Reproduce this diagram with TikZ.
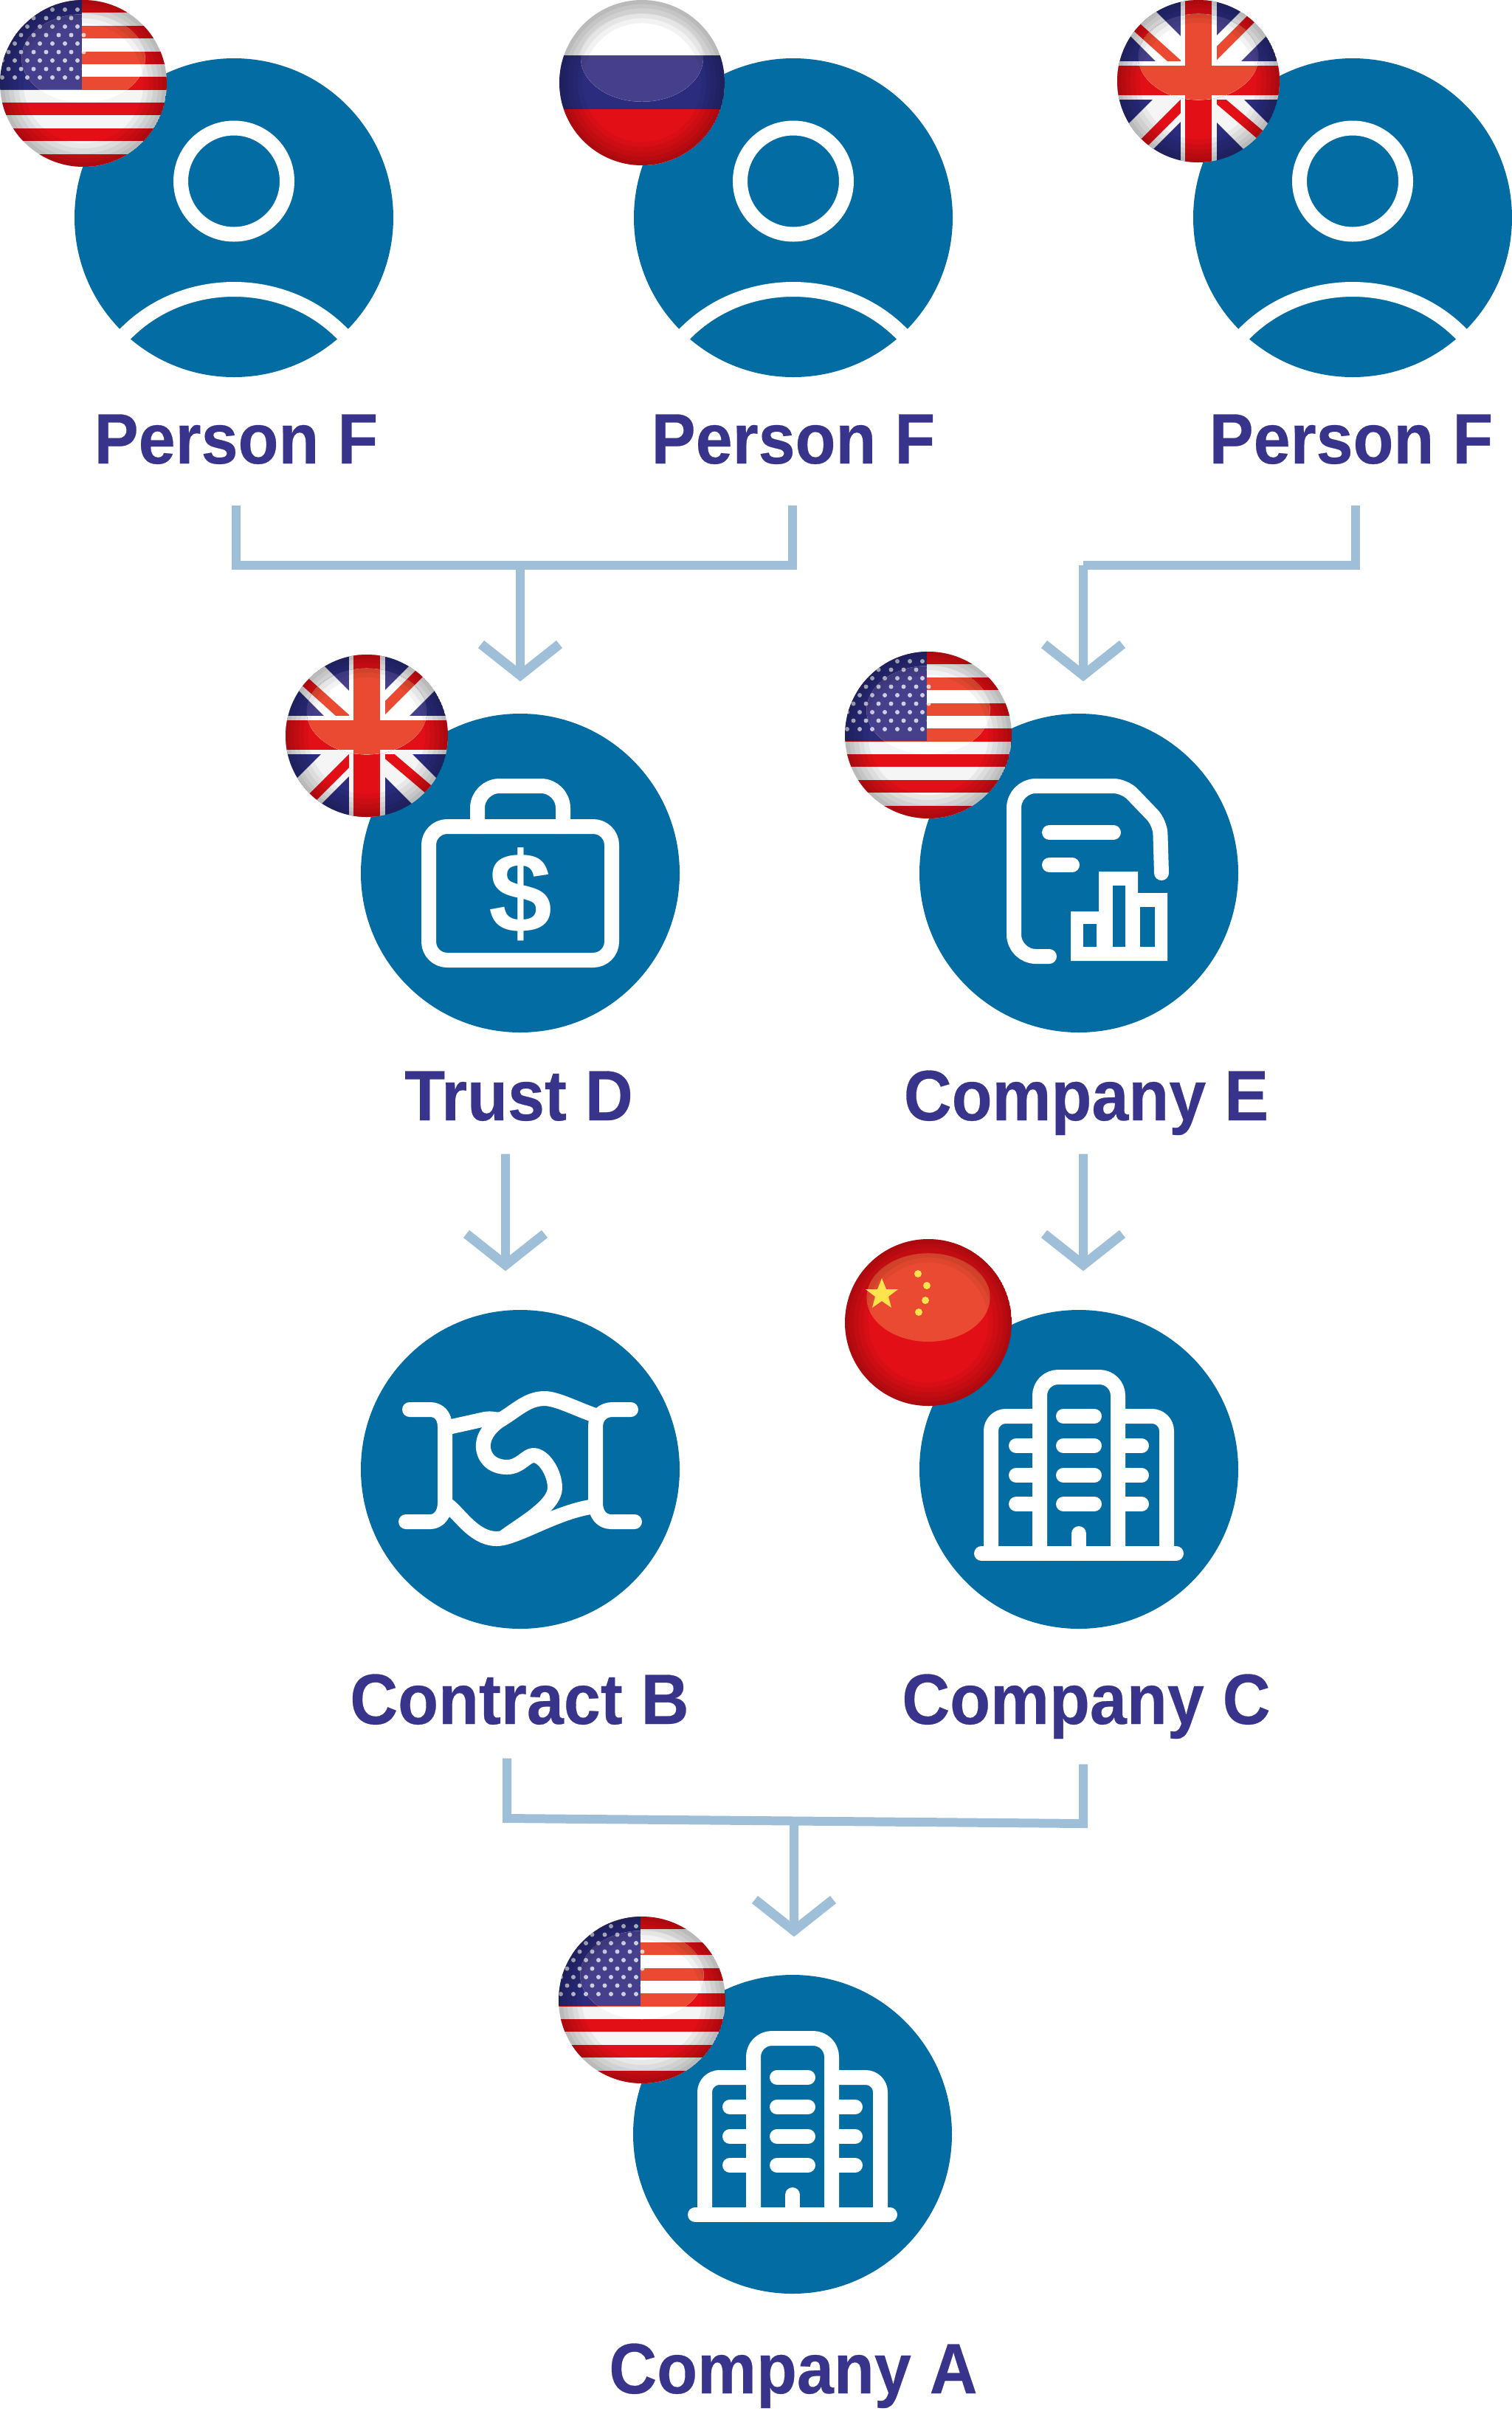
\documentclass[tikz,border=0pt]{standalone}
\usepackage{fontspec}
\setsansfont{Liberation Sans}
\newfontfamily\namefont[FakeStretch=0.93, BoldFeatures={FakeBold=0.3}]{Liberation Sans}
\usetikzlibrary{arrows.meta}

\definecolor{discblue}{HTML}{036CA2}
\definecolor{linkblue}{HTML}{9FBFD8}
\definecolor{namepurple}{HTML}{38348C}
\definecolor{flagred}{HTML}{E30F17}
\definecolor{flagblue}{HTML}{2B2C7E}
\definecolor{flagwhite}{HTML}{F5F5F5}
\definecolor{lightred}{HTML}{EA4A31}
\definecolor{lightblue}{HTML}{46408C}
\definecolor{staryellow}{HTML}{FFE34D}

% a flag twice: the lighter copy in the cap on top, then dark towards the rim
\newcommand{\flaggloss}[2]{
    \clip (0,0) circle (#1);
    #2
    \begin{scope}
        \clip (0,-0.30*#1) ellipse (0.74*#1 and 0.53*#1);
        \colorlet{flagred}{lightred}
        \colorlet{flagblue}{lightblue}
        \colorlet{flagwhite}{white}
        #2
    \end{scope}
    \foreach \k in {0.72,0.78,0.84,0.90,0.95}
        \fill[black, opacity=0.05, even odd rule] (0,0) circle ({\k*#1}) circle ({1.1*#1});
}

\tikzset{
    bluedisc/.style={circle, fill=discblue, minimum size=4.32cm, inner sep=0pt},
    flagspot/.style={circle, minimum size=2.26cm, inner sep=0pt},
    namelabel/.style={anchor=base, inner sep=0pt, text depth=0.22cm, text=namepurple,
        font=\namefont\bfseries\fontsize{27.5}{30}\selectfont},
    link/.style={draw=linkblue, line width=0.12cm},
    linktip/.style={link, -{Straight Barb[length=0.42cm, width=1.06cm, line width=0.13cm]}},
    iconline/.style={draw=white, line width=0.2cm, line cap=round, line join=round},
    personicon/.pic={
        \draw[white, line width=0.2cm] (0,-0.495) circle (0.72);
        \draw[white, line width=0.2cm] (-1.6,1.72) .. controls (-0.8,0.72) and (0.8,0.72) .. (1.6,1.72);
    },
    bagicon/.pic={
        \draw[iconline, rounded corners=0.25cm] (-1.24,-0.63) rectangle (1.24,1.18);
        \draw[iconline, rounded corners=0.3cm] (-0.58,-0.63) -- (-0.58,-1.18) -- (0.58,-1.18) -- (0.58,-0.63);
        \node[text=white, inner sep=0pt, font=\sffamily\bfseries\fontsize{44}{48}\selectfont] (dollarsign) at (0,0.29) {\$};
    },
    reporticon/.pic={
        \draw[iconline, rounded corners=0.3cm] (-0.40,1.13) -- (-0.88,1.13) -- (-0.88,-1.18) [rounded corners=0.15cm] -- (0.62,-1.18) -- (1.10,-0.68) -- (1.12,0);
        \draw[iconline] (-0.40,-0.55) -- (0.47,-0.55);
        \draw[iconline] (-0.40,-0.11) -- (-0.09,-0.11);
        \fill[white] (-0.11,1.19) -- (-0.11,0.52) -- (0.27,0.52) -- (0.27,-0.02) -- (0.80,-0.02)
            -- (0.80,0.27) -- (1.20,0.27) -- (1.20,1.19) -- cycle;
        \fill[discblue] (0.06,0.69) rectangle (0.24,0.995);
        \fill[discblue] (0.46,0.17) rectangle (0.63,0.995);
        \fill[discblue] (0.83,0.46) rectangle (1.03,0.995);
    },
    shakeicon/.pic={
        \draw[iconline] (-1.50,-0.81) -- (-1.22,-0.81) .. controls (-1.10,-0.81) and (-1.02,-0.72) .. (-1.02,-0.58)
            -- (-1.02,0.46) .. controls (-1.02,0.60) and (-1.10,0.71) .. (-1.22,0.71) -- (-1.55,0.71);
        \draw[iconline] (1.50,-0.81) -- (1.25,-0.81) .. controls (1.12,-0.81) and (1.02,-0.72) .. (1.02,-0.58)
            -- (1.02,0.46) .. controls (1.02,0.60) and (1.10,0.71) .. (1.23,0.71) -- (1.55,0.71);
        \draw[iconline] (-1.02,-0.56) -- (-0.48,-0.68) .. controls (-0.38,-0.70) and (-0.32,-0.66) .. (-0.25,-0.68)
            .. controls (-0.05,-0.80) and (0.10,-0.96) .. (0.33,-0.96) .. controls (0.50,-0.96) and (0.80,-0.80) .. (1.02,-0.73);
        \draw[iconline] (-0.25,-0.68) .. controls (-0.42,-0.58) and (-0.52,-0.42) .. (-0.50,-0.28)
            .. controls (-0.47,-0.10) and (-0.33,-0.03) .. (-0.18,-0.03) .. controls (0,-0.03) and (0.08,-0.19) .. (0.18,-0.19)
            .. controls (0.32,-0.19) and (0.47,0.05) .. (0.47,0.25) .. controls (0.47,0.50) and (0,0.75) .. (-0.22,0.92);
        \draw[iconline] (-1.02,0.46) .. controls (-0.85,0.55) and (-0.65,0.94) .. (-0.32,0.94)
            .. controls (-0.05,0.94) and (0.50,0.56) .. (1.02,0.50);
    },
    towericon/.pic={
        \draw[iconline] (-1.32,1.09) -- (1.32,1.09);
        \draw[iconline, rounded corners=0.25cm] (-0.53,1.09) -- (-0.53,-1.30) -- (0.53,-1.30) -- (0.53,1.09);
        \draw[iconline, rounded corners=0.2cm] (-1.19,1.09) -- (-1.19,-0.77) -- (-0.53,-0.77);
        \draw[iconline, rounded corners=0.2cm] (1.19,1.09) -- (1.19,-0.77) -- (0.53,-0.77);
        \foreach \y in {-0.77,-0.37,0.03,0.42}
            \draw[iconline] (-0.21,\y) -- (0.21,\y);
        \foreach \y in {-0.37,0.03,0.42} {
            \draw[iconline] (-0.85,\y) -- (-0.53,\y);
            \draw[iconline] (0.85,\y) -- (0.53,\y);
        }
        \draw[iconline] (0,0.82) -- (0,1.09);
    },
    usflag/.pic={
        \flaggloss{1.13}{
            \fill[flagwhite] (0,0) circle (1.13);
            \foreach \i in {0,2,...,12}
                \fill[flagred] (-1.2,{-1.13+\i*0.1738}) rectangle (1.2,{-1.13+(\i+1)*0.1738});
            \fill[flagblue] (-1.2,-1.2) rectangle (-0.02,0.08);
            \foreach \r in {0,...,8}
                \foreach \c in {0,...,6}
                    \fill[white, opacity=0.75] ({-1.1+\c*0.17+mod(\r,2)*0.085},{-1.0+\r*0.115}) circle (0.03);
        }
    },
    ruflag/.pic={
        \flaggloss{1.12}{
            \fill[flagwhite] (0,0) circle (1.12);
            \fill[flagblue] (-1.2,-0.37) rectangle (1.2,0.36);
            \fill[flagred] (-1.2,0.36) rectangle (1.2,1.2);
        }
    },
    ukflag/.pic={
        \flaggloss{1.10}{
            \fill[flagblue] (0,0) circle (1.10);
            \draw[flagwhite, line width=0.48cm] (-1.2,-1.23) -- (1.2,1.17);
            \draw[flagwhite, line width=0.48cm] (-1.2,1.17) -- (1.2,-1.23);
            \draw[flagred, line width=0.13cm] (-1.1,-0.97) -- (-0.1,-0.07);
            \draw[flagred, line width=0.13cm] (0.98,-1.11) -- (0.1,-0.23);
            \draw[flagred, line width=0.13cm] (-0.98,1.08) -- (-0.1,0.2);
            \draw[flagred, line width=0.13cm] (1.1,0.95) -- (0.1,0.1);
            \fill[flagwhite] (-0.245,-1.2) rectangle (0.245,1.2);
            \fill[flagwhite] (-1.2,-0.27) rectangle (1.2,0.25);
            \fill[flagred] (-0.18,-1.2) rectangle (0.18,1.2);
            \fill[flagred] (-1.2,-0.21) rectangle (1.2,0.19);
        }
    },
    cnflag/.pic={
        \flaggloss{1.13}{
            \fill[flagred] (0,0) circle (1.13);
        }
        \fill[staryellow] (-0.63,-0.60) -- (-0.57,-0.45) -- (-0.41,-0.45) -- (-0.54,-0.35) -- (-0.50,-0.20)
            -- (-0.63,-0.29) -- (-0.76,-0.20) -- (-0.72,-0.35) -- (-0.85,-0.45) -- (-0.69,-0.45) -- cycle;
        \foreach \x/\y in {-0.14/-0.66,-0.02/-0.50,-0.04/-0.30,-0.13/-0.14}
            \fill[staryellow] (\x,\y) circle (0.05);
    },
}

\begin{document}
\begin{tikzpicture}[x=1cm, y=-1cm]
    \useasboundingbox (0,0) rectangle (20.48,32.67);

    % top row
    \node[bluedisc] (personA) at (3.17,2.95) {};
    \node[bluedisc] (personB) at (10.75,2.95) {};
    \node[bluedisc] (personC) at (18.33,2.95) {};
    \pic at (personA) {personicon};
    \pic at (personB) {personicon};
    \pic at (personC) {personicon};
    \node[namelabel] (personAname) at (3.20,6.28) {Person F};
    \node[namelabel] (personBname) at (10.75,6.28) {Person F};
    \node[namelabel] (personCname) at (18.31,6.28) {Person F};

    % second row
    \node[bluedisc] (trust) at (7.05,11.83) {};
    \node[bluedisc] (companyE) at (14.62,11.83) {};
    \pic at (trust) {bagicon};
    \pic at (companyE) {reporticon};
    \node[namelabel] (trustname) at (7.03,15.18) {Trust D};
    \node[namelabel] (companyEname) at (14.72,15.18) {Company E};

    % third row
    \node[bluedisc] (contract) at (7.05,19.91) {};
    \node[bluedisc] (companyC) at (14.62,19.91) {};
    \pic at (contract) {shakeicon};
    \pic at ([yshift=-0.05cm]companyC) {towericon};
    \node[namelabel] (contractname) at (7.04,23.36) {Contract B};
    \node[namelabel] (companyCname) at (14.72,23.36) {Company C};

    % bottom
    \node[bluedisc] (companyA) at (10.74,28.92) {};
    \pic at (companyA) {towericon};
    \node[namelabel] (companyAname) at (10.75,32.43) {Company A};

    % flags
    \node[flagspot] (flagA) at (1.13,1.13) {};
    \node[flagspot] (flagB) at (8.70,1.12) {};
    \node[flagspot] (flagC) at (16.24,1.10) {};
    \node[flagspot] (flagD) at (4.97,9.97) {};
    \node[flagspot] (flagE) at (12.58,9.96) {};
    \node[flagspot] (flagF) at (12.58,17.92) {};
    \node[flagspot] (flagG) at (8.70,27.10) {};
    \pic at (flagA) {usflag};
    \pic at (flagB) {ruflag};
    \pic at (flagC) {ukflag};
    \pic at (flagD) {ukflag};
    \pic at (flagE) {usflag};
    \pic at (flagF) {cnflag};
    \pic at (flagG) {usflag};

    % connectors
    \coordinate (busD) at (7.05,7.66);
    \coordinate (busE) at (14.68,7.66);
    \coordinate (busLeft) at (6.87,24.64);
    \coordinate (busMid) at (10.76,24.68);
    \coordinate (busRight) at (14.68,24.71);

    \draw[link, shorten <=0.34cm, shorten >=0.34cm] (personAname.south) |- (busD) -| ([xshift=-0.01cm]personBname.south);
    \draw[linktip, shorten >=0.43cm] (busD) -- (trust.north);
    \draw[link, shorten <=0.34cm] ([xshift=0.06cm]personCname.south) |- (busE);
    \draw[linktip, shorten >=0.43cm] (busE) -- ([xshift=0.06cm]companyE.north);
    \draw[linktip, shorten <=0.23cm, shorten >=0.52cm] ([xshift=-0.18cm]trustname.south) -- ([xshift=-0.20cm]contract.north);
    \draw[linktip, shorten <=0.23cm, shorten >=0.52cm] ([xshift=-0.04cm]companyEname.south) -- ([xshift=0.06cm]companyC.north);
    \draw[link, shorten <=0.24cm, shorten >=0.32cm] ([xshift=-0.17cm]contractname.south) -- (busLeft) -- (busRight) -- ([xshift=-0.04cm]companyCname.south);
    \draw[linktip, shorten >=0.51cm] (busMid) -- ([xshift=0.02cm]companyA.north);
\end{tikzpicture}
\end{document}
